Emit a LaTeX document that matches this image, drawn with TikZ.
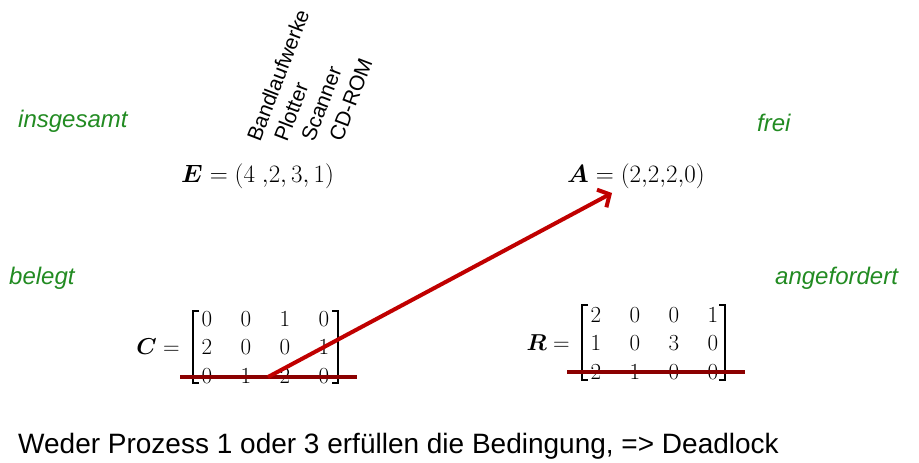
\RequirePackage{fix-cm}
\documentclass[tikz,border=0pt]{standalone}
\usepackage{amsmath}
\usepackage{fontspec}
\setmainfont{Liberation Sans}
\usetikzlibrary{arrows.meta,matrix}
\definecolor{lblgreen}{RGB}{34,139,34}
\definecolor{strikered}{RGB}{139,0,0}
\definecolor{arrowred}{RGB}{192,0,0}
\begin{document}
\begin{tikzpicture}[x=1pt,y=-1pt,
  grn/.style={text=lblgreen, font=\fontsize{24}{28}\selectfont\itshape, inner sep=0, anchor=base west},
  dev/.style={font=\fontsize{21}{25}\selectfont, rotate=69, anchor=base west, inner sep=0},
  eq/.style={font=\fontsize{25}{30}\selectfont, inner sep=0, anchor=base west},
  mat/.style={matrix of math nodes, inner sep=0, nodes={font=\fontsize{23}{27}\selectfont, minimum width=39pt, minimum height=28.5pt, inner sep=0}},
  lbl/.style={font=\fontsize{23}{27}\selectfont, inner sep=0, anchor=east},
  brk/.style={line width=1.8pt},
  strike/.style={draw=strikered, line width=4pt},
  arr/.style={draw=arrowred, line width=4pt, -{Straight Barb[length=9pt,width=20pt]}},
  bottomtext/.style={font=\fontsize{28}{32}\selectfont, inner sep=0, anchor=base west}]
\useasboundingbox (0,0) rectangle (919,463);

% green labels
\node[grn] (ins) at (18,127) {insgesamt};
\node[grn] (bel) at (9,284) {belegt};
\node[grn] (frei) at (757,131) {frei};
\node[grn] (ang) at (775,284) {angefordert};

% device labels
\node[dev] (d1) at (260,143) {Bandlaufwerke};
\node[dev] (d2) at (287,143) {Plotter};
\node[dev] (d3) at (314,143) {Scanner};
\node[dev] (d4) at (342,143) {CD-ROM};

% vectors
\node[eq] (E) at (181,182) {$\boldsymbol{E} = (4\;{,}2, 3, 1)$};
\node[eq] (A) at (567,182) {$\boldsymbol{A} = (2{,}2{,}2{,}0)$};

% matrix C
\node[lbl] (Clbl) at (180,347) {$\boldsymbol{C} =$};
\matrix (C) [mat] at (265.5,347.5) {
0 & 0 & 1 & 0 \\
2 & 0 & 0 & 1 \\
0 & 1 & 2 & 0 \\
};
\draw[brk] (199,311) -- (193,311) -- (193,383) -- (199,383);
\draw[brk] (332,311) -- (338,311) -- (338,383) -- (332,383);

% matrix R
\node[lbl] (Rlbl) at (570,343) {$\boldsymbol{R} =$};
\matrix (R) [mat] at (654.5,343.5) {
2 & 0 & 0 & 1 \\
1 & 0 & 3 & 0 \\
2 & 1 & 0 & 0 \\
};
\draw[brk] (588,305) -- (582,305) -- (582,380) -- (588,380);
\draw[brk] (719,305) -- (725,305) -- (725,380) -- (719,380);

% strike lines
\coordinate (cs1) at (180,377);
\coordinate (cs2) at (357,377);
\coordinate (rs1) at (567,372);
\coordinate (rs2) at (745,372);
\draw[strike] (cs1) -- (cs2);
\draw[strike] (rs1) -- (rs2);

% arrow
\coordinate (as) at (268,377);
\coordinate (ae) at (612,193);
\draw[arr] (as) -- (ae);

% bottom text
\node[bottomtext] (bt) at (18,453) {Weder Prozess 1 oder 3 erfüllen die Bedingung, => Deadlock};
\end{tikzpicture}
\end{document}
